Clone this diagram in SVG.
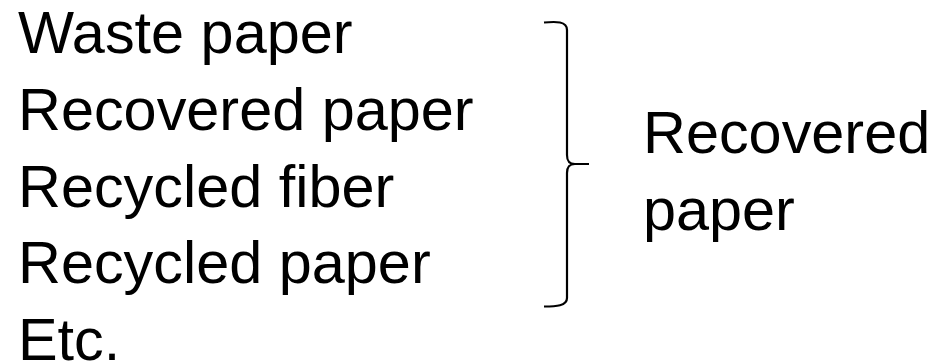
<svg xmlns="http://www.w3.org/2000/svg" width="950" height="364" viewBox="0 0 950 364">
<style>
.t{font-family:"Liberation Sans",Arial,sans-serif;font-size:59.4px;fill:#000}
.br{fill:none;stroke:#000;stroke-width:2.2;stroke-linecap:butt}
</style>
<rect width="950" height="364" fill="#fff"/>
<g id="list">
<text class="t" x="18" y="53">Waste paper</text>
<text class="t" x="18" y="129.5">Recovered paper</text>
<text class="t" x="18" y="206.5">Recycled fiber</text>
<text class="t" x="18" y="283">Recycled paper</text>
<text class="t" x="18" y="359.5">Etc.</text>
</g>
<g id="brace">
<path class="br" d="M544,22.5 C556,21.5 567,21 567,30 L567,155 C567,161 569,164 575,164 L589,164 M575,164 C569,164 567,167 567,173 L567,298 C567,306 556,306.5 544,306.5"/>
</g>
<g id="label">
<text class="t" x="643" y="153">Recovered</text>
<text class="t" x="643" y="230">paper</text>
</g>
</svg>
